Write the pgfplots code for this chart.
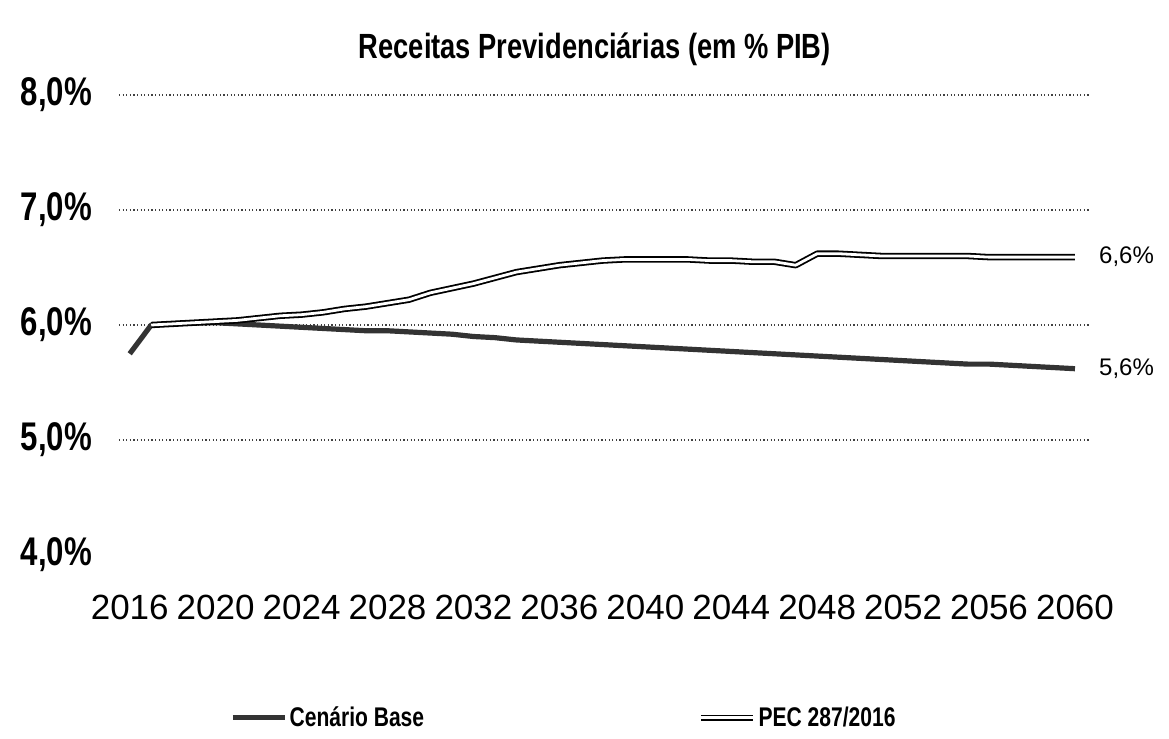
\documentclass[border=0pt]{standalone}
\usepackage{fontspec}
\setmainfont{Liberation Sans}
\newfontfamily\narrow[FakeStretch=0.78]{Liberation Sans}
\usepackage{pgfplots}
\pgfplotsset{compat=1.18}
\usepackage{pgfplotstable}
\pgfplotsset{short line legend/.style={legend image code/.code={\draw[##1] (0pt,0pt) -- (26pt,0pt);}}}

% receitas previdenciarias, % do PIB
\pgfplotstableread{
year base pec
2016 5.75 nan
2017 6.00 6.00
2018 6.01 6.01
2019 6.02 6.02
2020 6.02 6.03
2021 6.01 6.04
2022 6.00 6.06
2023 5.99 6.08
2024 5.98 6.09
2025 5.97 6.11
2026 5.96 6.14
2027 5.95 6.16
2028 5.95 6.19
2029 5.94 6.22
2030 5.93 6.28
2031 5.92 6.32
2032 5.90 6.36
2033 5.89 6.41
2034 5.87 6.46
2035 5.86 6.49
2036 5.85 6.52
2037 5.84 6.54
2038 5.83 6.56
2039 5.82 6.57
2040 5.81 6.57
2041 5.80 6.57
2042 5.79 6.57
2043 5.78 6.56
2044 5.77 6.56
2045 5.76 6.55
2046 5.75 6.55
2047 5.74 6.52
2048 5.73 6.62
2049 5.72 6.62
2050 5.71 6.61
2051 5.70 6.60
2052 5.69 6.60
2053 5.68 6.60
2054 5.67 6.60
2055 5.66 6.60
2056 5.66 6.59
2057 5.65 6.59
2058 5.64 6.59
2059 5.63 6.59
2060 5.62 6.59
}\receitas

\begin{document}
\begin{tikzpicture}
\begin{axis}[
    scale only axis,
    width=485.5pt, height=230pt,
    xmin=2015.5, xmax=2060.7,
    ymin=4, ymax=8,
    clip=false,
    axis line style={draw=none},
    tick style={draw=none},
    xtick={2016,2020,...,2060},
    xticklabels={2016,2020,2024,2028,2032,2036,2040,2044,2048,2052,2056,2060},
    xticklabel style={anchor=center, yshift=-26pt, font=\fontsize{17.5}{20}\selectfont},
    ytick={5,6,7,8},
    extra y ticks={4},
    extra y tick style={grid=none},
    yticklabel={\pgfmathprintnumber[fixed, fixed zerofill, precision=1, use comma, assume math mode=true]{\tick}\%},
    yticklabel style={anchor=east, xshift=-10pt, font=\narrow\bfseries\fontsize{20}{22}\selectfont},
    ymajorgrids,
    grid style={black!75, line width=0.6pt, dash pattern=on 0.6pt off 1.2pt},
    title={Receitas Previdenciárias (em \% PIB)},
    title style={at={(0.49,1)}, anchor=center, yshift=17pt, font=\narrow\bfseries\fontsize{17.5}{20}\selectfont},
    legend columns=2,
    legend style={at={(0.1143,-0.354)}, anchor=west, draw=none, inner sep=0pt,
        font=\narrow\bfseries\fontsize{13.5}{16}\selectfont,
        nodes={inner xsep=1pt, inner ysep=0pt},
        /tikz/every even column/.append style={column sep=136pt}},
    legend cell align=left,
    short line legend,
]
\addplot[black!80, line width=2.6pt, line join=round]
    table[x=year, y=base] {\receitas};
\addlegendentry{Cenário Base}
\addplot[black, line width=0.9pt, double=white, double distance=1.4pt, line join=round,
    unbounded coords=discard]
    table[x=year, y=pec] {\receitas};
\addlegendentry{PEC 287/2016}
\node[anchor=west, font=\fontsize{12}{14}\selectfont] at (axis cs:2060.8,6.59) {6,6\%};
\node[anchor=west, font=\fontsize{12}{14}\selectfont] at (axis cs:2060.8,5.62) {5,6\%};
\end{axis}
\pgfresetboundingbox
\path (current axis.south west) ++(-59.5pt,-91.5pt) rectangle ([xshift=39.5pt, yshift=47.5pt]current axis.north east);
\end{tikzpicture}
\end{document}
